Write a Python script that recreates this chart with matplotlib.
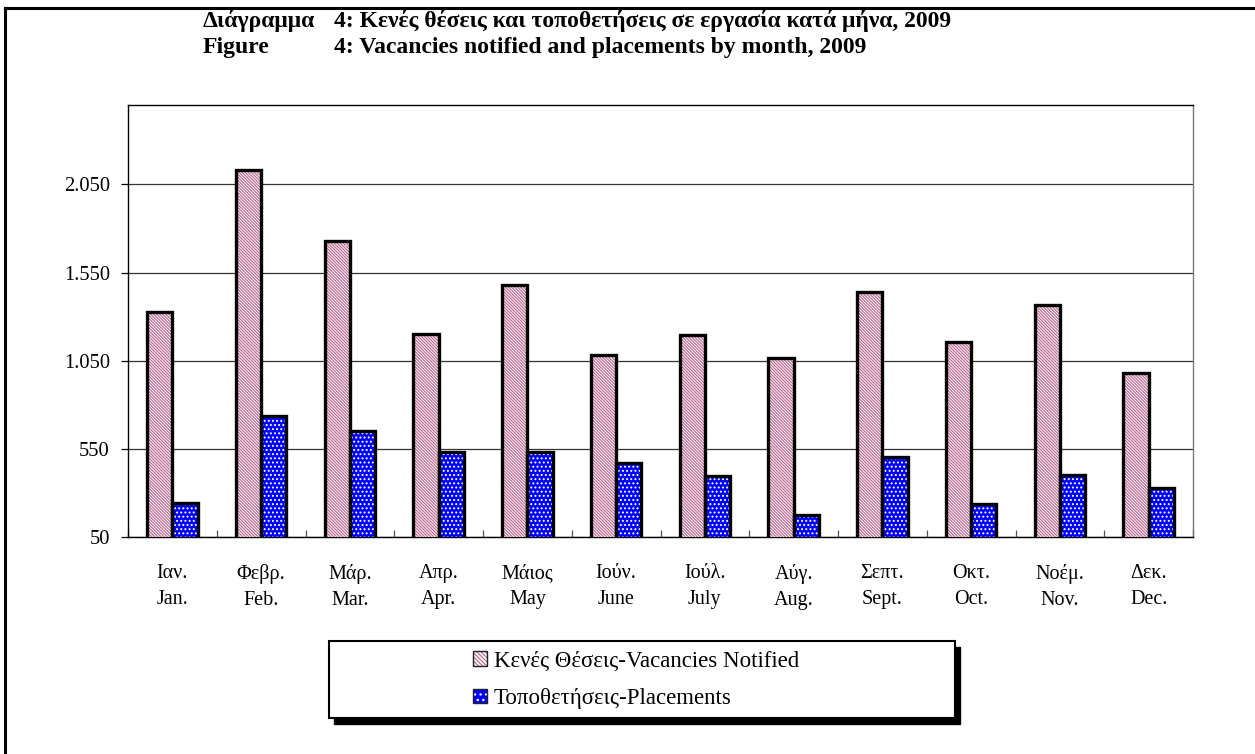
import numpy as np
import matplotlib.pyplot as plt
from matplotlib.patches import Rectangle, Patch
from matplotlib.lines import Line2D

SERIF = ["Liberation Serif", "DejaVu Serif"]
plt.rcParams.update({
    "font.family": SERIF,
    "hatch.linewidth": 0.9,
})

months_gr = ["Ιαν.", "Φεβρ.", "Μάρ.", "Απρ.", "Μάιος", "Ιούν.", "Ιούλ.", "Αύγ.",
             "Σεπτ.", "Οκτ.", "Νοέμ.", "Δεκ."]
months_en = ["Jan.", "Feb.", "Mar.", "Apr.", "May", "June", "July", "Aug.",
             "Sept.", "Oct.", "Nov.", "Dec."]
vacancies = [1328, 2133, 1728, 1199, 1480, 1080, 1195, 1065, 1440, 1158, 1368, 980]
placements = [241, 737, 652, 531, 531, 472, 394, 173, 506, 235, 400, 328]
yticks = [50, 550, 1050, 1550, 2050]
ytick_labels = ["50", "550", "1.050", "1.550", "2.050"]

PINK = "#BC6E95"
BLUE = "#0000FF"

fig = plt.figure(figsize=(12.55, 7.54), dpi=100)
fig.patch.set_facecolor("white")
ax = fig.add_axes([0.102, 0.2878, 0.8486, 0.5729])

x = np.arange(len(months_en))
w = 0.285

# hatched fills first, then black outlines on top
ax.bar(x - w / 2, vacancies, w, facecolor="white", edgecolor=PINK,
       hatch="\\" * 11, linewidth=0, zorder=3)
ax.bar(x + w / 2, placements, w, facecolor=BLUE, edgecolor="white",
       hatch="." * 4, linewidth=0, zorder=3)
ax.bar(x - w / 2, vacancies, w, fill=False, edgecolor="black", linewidth=2.4, zorder=4)
ax.bar(x + w / 2, placements, w, fill=False, edgecolor="black", linewidth=2.4, zorder=4)

ax.set_xlim(-0.5, len(x) - 0.5)
ax.set_ylim(50, 2500)
ax.set_yticks(yticks)
ax.set_yticklabels(ytick_labels, fontsize=14.8)
ax.yaxis.grid(True, color="#333333", linewidth=0.9, zorder=0)
ax.tick_params(axis="y", length=5, width=0.9, direction="out", pad=8, colors="black")

ax.set_xticks(np.arange(len(x) + 1) - 0.5)
ax.set_xticklabels([])
ax.tick_params(axis="x", length=5, width=0.9, direction="in", color="#555555")
for i, (g, e) in enumerate(zip(months_gr, months_en)):
    ax.text(i, -0.063, g + "\n" + e, transform=ax.get_xaxis_transform(),
            ha="center", va="top", fontsize=14.5, linespacing=1.45)

for s in ax.spines.values():
    s.set_linewidth(1.0)
    s.set_color("black")
ax.spines["right"].set_color("#777777")

# title
TS = 17
fig.text(203 / 1255, 1 - 21 / 754, "Διάγραμμα", fontsize=TS, fontweight="bold", va="center")
fig.text(334 / 1255, 1 - 21 / 754, "4: Κενές θέσεις και τοποθετήσεις σε εργασία κατά μήνα, 2009",
         fontsize=TS, fontweight="bold", va="center")
fig.text(203 / 1255, 1 - 48 / 754, "Figure", fontsize=TS, fontweight="bold", va="center")
fig.text(334 / 1255, 1 - 48 / 754, "4: Vacancies notified and placements by month, 2009",
         fontsize=TS, fontweight="bold", va="center")

# outer frame (top and left edges visible)
fig.add_artist(Line2D([5 / 1255, 1.0], [1 - 8 / 754] * 2, transform=fig.transFigure,
                      color="black", linewidth=2.2))
fig.add_artist(Line2D([5 / 1255] * 2, [0.0, 1 - 8 / 754], transform=fig.transFigure,
                      color="black", linewidth=2.2))

# legend box with shadow
lx0, lx1, ly0, ly1 = 329 / 1255, 955 / 1255, 1 - 718 / 754, 1 - 641 / 754
fig.add_artist(Rectangle((lx0 + 5 / 1255, ly0 - 6 / 754), lx1 - lx0, ly1 - ly0,
                         transform=fig.transFigure, facecolor="black", edgecolor="black"))
fig.add_artist(Rectangle((lx0, ly0), lx1 - lx0, ly1 - ly0, transform=fig.transFigure,
                         facecolor="white", edgecolor="black", linewidth=1.5))
outline = Patch(fill=False, edgecolor="#222222", linewidth=1.0)
handles = [(Patch(facecolor="white", edgecolor=PINK, hatch="\\" * 8, linewidth=0), outline),
           (Patch(facecolor=BLUE, edgecolor="white", hatch="." * 3, linewidth=0), outline)]
fig.legend(handles, ["Κενές Θέσεις-Vacancies Notified", "Τοποθετήσεις-Placements"],
           loc="center left", bbox_to_anchor=(462 / 1255, 1 - 680 / 754),
           frameon=False, fontsize=16.5, handlelength=0.6, handleheight=0.6,
           handletextpad=0.3, labelspacing=0.72, borderpad=0.0)

fig.savefig("out.png", dpi=100)
